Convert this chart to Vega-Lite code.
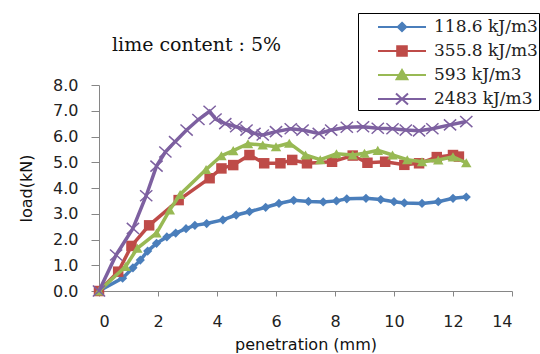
{
  "$schema": "https://vega.github.io/schema/vega-lite/v6.json",
  "width": 413,
  "height": 206,
  "autosize": "none",
  "padding": {"left": 99, "top": 85, "right": 28, "bottom": 63},
  "background": "white",
  "title": {
    "text": "lime content : 5%",
    "anchor": "start",
    "frame": "group",
    "dx": 13,
    "dy": 57,
    "offset": 0,
    "baseline": "alphabetic",
    "font": "DejaVu Serif",
    "fontSize": 19,
    "fontWeight": "normal",
    "color": "#111111"
  },
  "config": {
    "view": {"stroke": null},
    "axis": {
      "grid": false,
      "domainColor": "#868686",
      "tickColor": "#868686",
      "labelFont": "DejaVu Sans",
      "labelFontSize": 16,
      "labelColor": "#222222",
      "titleFont": "DejaVu Sans",
      "titleFontSize": 16,
      "titleFontWeight": "normal",
      "titleColor": "#111111"
    }
  },
  "data": {
    "values": [
      {"s": "118.6 kJ/m3", "x": 0, "y": 0},
      {"s": "118.6 kJ/m3", "x": 0.8, "y": 0.5},
      {"s": "118.6 kJ/m3", "x": 1.15, "y": 0.9},
      {"s": "118.6 kJ/m3", "x": 1.4, "y": 1.2},
      {"s": "118.6 kJ/m3", "x": 1.65, "y": 1.55},
      {"s": "118.6 kJ/m3", "x": 1.95, "y": 1.85},
      {"s": "118.6 kJ/m3", "x": 2.3, "y": 2.1},
      {"s": "118.6 kJ/m3", "x": 2.6, "y": 2.25},
      {"s": "118.6 kJ/m3", "x": 2.95, "y": 2.42},
      {"s": "118.6 kJ/m3", "x": 3.25, "y": 2.55},
      {"s": "118.6 kJ/m3", "x": 3.65, "y": 2.62},
      {"s": "118.6 kJ/m3", "x": 4.2, "y": 2.76},
      {"s": "118.6 kJ/m3", "x": 4.65, "y": 2.95},
      {"s": "118.6 kJ/m3", "x": 5.1, "y": 3.08},
      {"s": "118.6 kJ/m3", "x": 5.65, "y": 3.25},
      {"s": "118.6 kJ/m3", "x": 6.1, "y": 3.4},
      {"s": "118.6 kJ/m3", "x": 6.6, "y": 3.52},
      {"s": "118.6 kJ/m3", "x": 7.1, "y": 3.48},
      {"s": "118.6 kJ/m3", "x": 7.6, "y": 3.46},
      {"s": "118.6 kJ/m3", "x": 8.05, "y": 3.5},
      {"s": "118.6 kJ/m3", "x": 8.4, "y": 3.58},
      {"s": "118.6 kJ/m3", "x": 9.05, "y": 3.6},
      {"s": "118.6 kJ/m3", "x": 9.55, "y": 3.55},
      {"s": "118.6 kJ/m3", "x": 10.0, "y": 3.47},
      {"s": "118.6 kJ/m3", "x": 10.35, "y": 3.42},
      {"s": "118.6 kJ/m3", "x": 10.95, "y": 3.4},
      {"s": "118.6 kJ/m3", "x": 11.5, "y": 3.47},
      {"s": "118.6 kJ/m3", "x": 12.0, "y": 3.6},
      {"s": "118.6 kJ/m3", "x": 12.45, "y": 3.65},
      {"s": "355.8 kJ/m3", "x": 0, "y": 0},
      {"s": "355.8 kJ/m3", "x": 0.65, "y": 0.75},
      {"s": "355.8 kJ/m3", "x": 1.1, "y": 1.75},
      {"s": "355.8 kJ/m3", "x": 1.7, "y": 2.55},
      {"s": "355.8 kJ/m3", "x": 2.7, "y": 3.53},
      {"s": "355.8 kJ/m3", "x": 3.75, "y": 4.38},
      {"s": "355.8 kJ/m3", "x": 4.15, "y": 4.76},
      {"s": "355.8 kJ/m3", "x": 4.55, "y": 4.89},
      {"s": "355.8 kJ/m3", "x": 5.1, "y": 5.28},
      {"s": "355.8 kJ/m3", "x": 5.6, "y": 4.96},
      {"s": "355.8 kJ/m3", "x": 6.15, "y": 4.96},
      {"s": "355.8 kJ/m3", "x": 6.55, "y": 5.09},
      {"s": "355.8 kJ/m3", "x": 7.05, "y": 4.96},
      {"s": "355.8 kJ/m3", "x": 7.9, "y": 5.02},
      {"s": "355.8 kJ/m3", "x": 8.6, "y": 5.26},
      {"s": "355.8 kJ/m3", "x": 9.1, "y": 4.98},
      {"s": "355.8 kJ/m3", "x": 9.7, "y": 5.02},
      {"s": "355.8 kJ/m3", "x": 10.35, "y": 4.9},
      {"s": "355.8 kJ/m3", "x": 10.85, "y": 4.96},
      {"s": "355.8 kJ/m3", "x": 11.45, "y": 5.2},
      {"s": "355.8 kJ/m3", "x": 12.0, "y": 5.28},
      {"s": "355.8 kJ/m3", "x": 12.2, "y": 5.22},
      {"s": "593 kJ/m3", "x": 0, "y": 0},
      {"s": "593 kJ/m3", "x": 0.9, "y": 0.95},
      {"s": "593 kJ/m3", "x": 1.3, "y": 1.66},
      {"s": "593 kJ/m3", "x": 1.95, "y": 2.25},
      {"s": "593 kJ/m3", "x": 2.4, "y": 3.15},
      {"s": "593 kJ/m3", "x": 2.75, "y": 3.75},
      {"s": "593 kJ/m3", "x": 3.63, "y": 4.72},
      {"s": "593 kJ/m3", "x": 4.15, "y": 5.25},
      {"s": "593 kJ/m3", "x": 4.55, "y": 5.45},
      {"s": "593 kJ/m3", "x": 5.05, "y": 5.72},
      {"s": "593 kJ/m3", "x": 5.55, "y": 5.67},
      {"s": "593 kJ/m3", "x": 6.0, "y": 5.6},
      {"s": "593 kJ/m3", "x": 6.45, "y": 5.74},
      {"s": "593 kJ/m3", "x": 7.0, "y": 5.28},
      {"s": "593 kJ/m3", "x": 7.5, "y": 5.1},
      {"s": "593 kJ/m3", "x": 8.05, "y": 5.33},
      {"s": "593 kJ/m3", "x": 8.6, "y": 5.28},
      {"s": "593 kJ/m3", "x": 9.0, "y": 5.35},
      {"s": "593 kJ/m3", "x": 9.45, "y": 5.46},
      {"s": "593 kJ/m3", "x": 9.95, "y": 5.28},
      {"s": "593 kJ/m3", "x": 10.45, "y": 5.1},
      {"s": "593 kJ/m3", "x": 10.95, "y": 5.02},
      {"s": "593 kJ/m3", "x": 11.5, "y": 5.09},
      {"s": "593 kJ/m3", "x": 12.0, "y": 5.21},
      {"s": "593 kJ/m3", "x": 12.45, "y": 4.98},
      {"s": "2483 kJ/m3", "x": 0, "y": 0},
      {"s": "2483 kJ/m3", "x": 0.58, "y": 1.4},
      {"s": "2483 kJ/m3", "x": 1.15, "y": 2.43},
      {"s": "2483 kJ/m3", "x": 1.6, "y": 3.7},
      {"s": "2483 kJ/m3", "x": 1.95, "y": 4.85},
      {"s": "2483 kJ/m3", "x": 2.25, "y": 5.4},
      {"s": "2483 kJ/m3", "x": 2.58, "y": 5.8},
      {"s": "2483 kJ/m3", "x": 2.97, "y": 6.25},
      {"s": "2483 kJ/m3", "x": 3.37, "y": 6.66},
      {"s": "2483 kJ/m3", "x": 3.75, "y": 6.98},
      {"s": "2483 kJ/m3", "x": 3.95, "y": 6.68},
      {"s": "2483 kJ/m3", "x": 4.28, "y": 6.5},
      {"s": "2483 kJ/m3", "x": 4.65, "y": 6.38},
      {"s": "2483 kJ/m3", "x": 5.0, "y": 6.25},
      {"s": "2483 kJ/m3", "x": 5.27, "y": 6.12},
      {"s": "2483 kJ/m3", "x": 5.55, "y": 6.06},
      {"s": "2483 kJ/m3", "x": 6.0, "y": 6.19},
      {"s": "2483 kJ/m3", "x": 6.5, "y": 6.3},
      {"s": "2483 kJ/m3", "x": 6.9, "y": 6.25},
      {"s": "2483 kJ/m3", "x": 7.45, "y": 6.12},
      {"s": "2483 kJ/m3", "x": 7.87, "y": 6.25},
      {"s": "2483 kJ/m3", "x": 8.4, "y": 6.36},
      {"s": "2483 kJ/m3", "x": 8.95, "y": 6.38},
      {"s": "2483 kJ/m3", "x": 9.45, "y": 6.32},
      {"s": "2483 kJ/m3", "x": 9.95, "y": 6.3},
      {"s": "2483 kJ/m3", "x": 10.4, "y": 6.25},
      {"s": "2483 kJ/m3", "x": 10.85, "y": 6.22},
      {"s": "2483 kJ/m3", "x": 11.3, "y": 6.3},
      {"s": "2483 kJ/m3", "x": 11.9, "y": 6.45},
      {"s": "2483 kJ/m3", "x": 12.45, "y": 6.58}
    ]
  },
  "encoding": {
    "x": {
      "field": "x", "type": "quantitative",
      "scale": {"domain": [0, 14], "nice": false},
      "axis": {"values": [0, 2, 4, 6, 8, 10, 12, 14], "tickSize": 5, "labelPadding": 17, "title": "penetration (mm)", "titlePadding": 7}
    },
    "y": {
      "field": "y", "type": "quantitative",
      "scale": {"domain": [0, 8], "nice": false},
      "axis": {"values": [0, 1, 2, 3, 4, 5, 6, 7, 8], "format": ".1f", "tickSize": 8, "labelPadding": 13, "title": "load(kN)", "titlePadding": 18}
    }
  },
  "layer": [
    {
      "transform": [{"filter": "datum.s === '118.6 kJ/m3'"}],
      "mark": {"type": "line", "color": "#4A7EBB", "strokeWidth": 3.5},
      "encoding": {}
    },
    {
      "transform": [{"filter": "datum.s === '118.6 kJ/m3'"}],
      "mark": {"type": "point", "shape": "diamond", "filled": true, "opacity": 1, "size": 85, "color": "#4A7EBB"},
      "encoding": {}
    },
    {
      "transform": [{"filter": "datum.s === '355.8 kJ/m3'"}],
      "mark": {"type": "line", "color": "#BE4B48", "strokeWidth": 3.5},
      "encoding": {}
    },
    {
      "transform": [{"filter": "datum.s === '355.8 kJ/m3'"}],
      "mark": {"type": "point", "shape": "square", "filled": true, "opacity": 1, "size": 110, "color": "#BE4B48"},
      "encoding": {}
    },
    {
      "transform": [{"filter": "datum.s === '593 kJ/m3'"}],
      "mark": {"type": "line", "color": "#98B954", "strokeWidth": 3.5},
      "encoding": {}
    },
    {
      "transform": [{"filter": "datum.s === '593 kJ/m3'"}],
      "mark": {"type": "point", "shape": "triangle-up", "filled": true, "opacity": 1, "size": 110, "color": "#98B954"},
      "encoding": {}
    },
    {
      "transform": [{"filter": "datum.s === '2483 kJ/m3'"}],
      "mark": {"type": "line", "color": "#7D60A0", "strokeWidth": 3.5},
      "encoding": {}
    },
    {
      "transform": [{"filter": "datum.s === '2483 kJ/m3'"}],
      "mark": {"type": "point", "shape": "M-1,-0.9L1,0.9M-1,0.9L1,-0.9", "filled": false, "opacity": 1, "size": 150, "strokeWidth": 1.5, "color": "#7D60A0"},
      "encoding": {}
    },
    {
      "mark": {"type": "point", "filled": true, "size": 0, "opacity": 0, "strokeWidth": 2},
      "encoding": {
        "fill": {
          "field": "s", "type": "nominal",
          "scale": {
            "domain": ["118.6 kJ/m3", "355.8 kJ/m3", "593 kJ/m3", "2483 kJ/m3"],
            "range": ["#4A7EBB", "#BE4B48", "#98B954", "#7D60A0"]
          }
        },
        "stroke": {
          "field": "s", "type": "nominal",
          "scale": {
            "domain": ["118.6 kJ/m3", "355.8 kJ/m3", "593 kJ/m3", "2483 kJ/m3"],
            "range": ["#4A7EBB", "#BE4B48", "#98B954", "#7D60A0"]
          }
        },
        "shape": {
          "field": "s", "type": "nominal",
          "scale": {
            "domain": ["118.6 kJ/m3", "355.8 kJ/m3", "593 kJ/m3", "2483 kJ/m3"],
            "range": [
              "M-2,0H2M0,-0.35L0.35,0L0,0.35L-0.35,0Z",
              "M-2,0H2M-0.4,-0.4H0.4V0.4H-0.4Z",
              "M-2,0H2M0,-0.42L0.45,0.35H-0.45Z",
              "M-2,0H2M-0.5,-0.45L0.5,0.45M-0.5,0.45L0.5,-0.45"
            ]
          },
          "legend": {
            "title": null,
            "orient": "none",
            "legendX": 259,
            "legendY": -72,
            "padding": 1,
            "symbolOffset": 30,
            "symbolSize": 576,
            "symbolStrokeWidth": 2,
            "symbolOpacity": 1,
            "labelOffset": 19,
            "rowPadding": 2,
            "labelFont": "DejaVu Serif",
            "labelFontSize": 17,
            "labelColor": "#222222",
            "labelLimit": 300,
            "strokeColor": "#000000",
            "fillColor": "#ffffff",
            "encode": {
              "legend": {
                "update": {
                  "strokeWidth": {"value": 1.5}
                }
              },
              "symbols": {
                "update": {
                  "size": {"value": 576},
                  "opacity": {"value": 1},
                  "strokeWidth": {"value": 2},
                  "strokeOpacity": {"value": 1},
                  "fillOpacity": {"value": 1}
                }
              }
            }
          }
        }
      }
    }
  ]
}
